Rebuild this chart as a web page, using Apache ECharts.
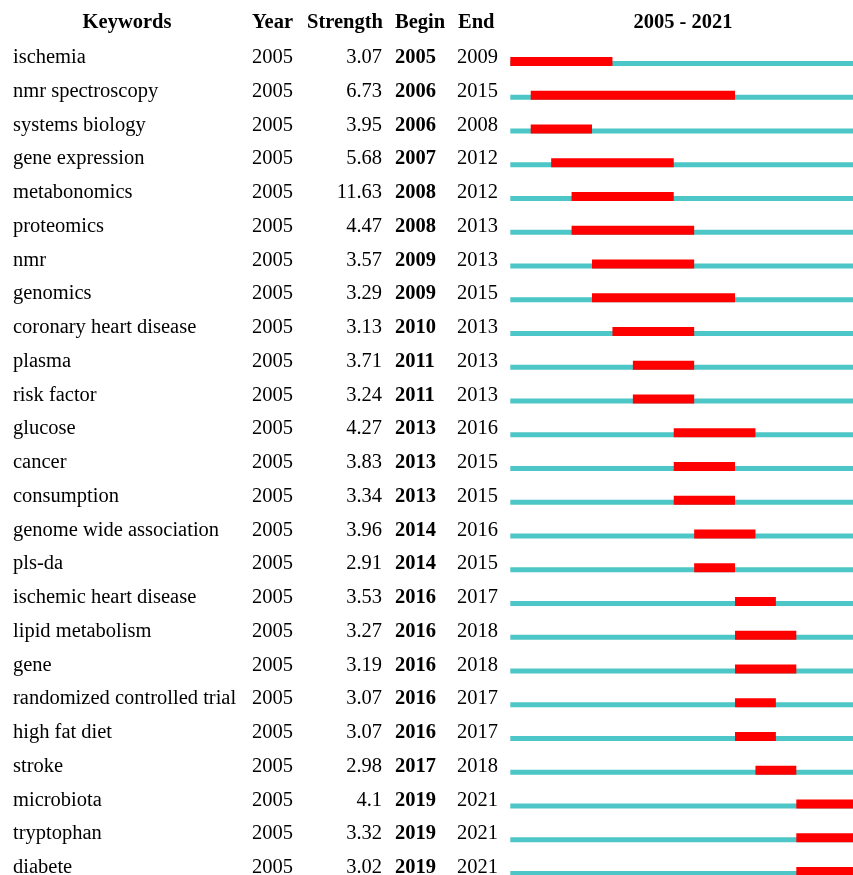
<!DOCTYPE html>
<html>
<head>
<meta charset="utf-8">
<script src="https://cdn.jsdelivr.net/npm/echarts@6/dist/echarts.min.js"></script>
<style>html,body{margin:0;padding:0;background:#fff;}#c{width:853px;height:875px;}</style>
</head>
<body>
<div id="c"></div>
<script>
const keywords = ['ischemia','nmr spectroscopy','systems biology','gene expression','metabonomics','proteomics','nmr','genomics','coronary heart disease','plasma','risk factor','glucose','cancer','consumption','genome wide association','pls-da','ischemic heart disease','lipid metabolism','gene','randomized controlled trial','high fat diet','stroke','microbiota','tryptophan','diabete'];
const years = [2005,2005,2005,2005,2005,2005,2005,2005,2005,2005,2005,2005,2005,2005,2005,2005,2005,2005,2005,2005,2005,2005,2005,2005,2005];
const strength = ['3.07','6.73','3.95','5.68','11.63','4.47','3.57','3.29','3.13','3.71','3.24','4.27','3.83','3.34','3.96','2.91','3.53','3.27','3.19','3.07','3.07','2.98','4.1','3.32','3.02'];
const begins = [2005,2006,2006,2007,2008,2008,2009,2009,2010,2011,2011,2013,2013,2013,2014,2014,2016,2016,2016,2016,2016,2017,2019,2019,2019];
const ends = [2009,2015,2008,2012,2012,2013,2013,2015,2013,2013,2013,2016,2015,2015,2016,2015,2017,2018,2018,2017,2017,2018,2021,2021,2021];
const firstYear = 2005, lastYear = 2021;
const headers = ['Keywords','Year','Strength','Begin','End', firstYear + ' - ' + lastYear];

const FONT = '"Liberation Serif", "Times New Roman", serif';
const FS = 20.5;
const REG = FS + 'px ' + FONT;
const BOLD = 'bold ' + FS + 'px ' + FONT;
const chart = echarts.init(document.getElementById('c'), null, {renderer:'canvas'});
const rowData = keywords.map((k,i)=>[i, begins[i], ends[i]]);

const hdr = (x, align, text) => ({
  type:'text', x:x, y:23,
  style:{text:text, font:BOLD, fill:'#000', textAlign:align, textVerticalAlign:'middle'}
});
const txt = (x, y, align, text, font) => ({
  type:'text', x:x, y:y,
  style:{text:String(text), font:font, fill:'#000', textAlign:align, textVerticalAlign:'middle'}
});

chart.setOption({
  animation:false,
  grid:{left:510.3, right:-4.6, top:38.4, bottom:-7.1, outerBoundsMode:'none', containLabel:false},
  xAxis:{type:'value', min:firstYear, max:lastYear+1, show:false},
  yAxis:{type:'category', data:keywords, inverse:true, show:false},
  graphic:[
    hdr(127,'center',headers[0]),
    hdr(252,'left',headers[1]),
    hdr(383,'right',headers[2]),
    hdr(395,'left',headers[3]),
    hdr(458,'left',headers[4]),
    hdr(683,'center',headers[5])
  ],
  series:[{
    type:'custom',
    data:rowData,
    clip:false,
    renderItem:(params, api)=>{
      const idx = api.value(0);
      const p0 = api.coord([firstYear, idx]);
      const p1 = api.coord([lastYear+1, idx]);
      const b0 = api.coord([api.value(1), idx]);
      const b1 = api.coord([api.value(2)+1, idx]);
      const bottom = p0[1] + 10.75;
      const ty = p0[1] + 2.5;
      return {type:'group', children:[
        txt(13, ty, 'left', keywords[idx], REG),
        txt(252, ty, 'left', years[idx], REG),
        txt(382, ty, 'right', strength[idx], REG),
        txt(395, ty, 'left', begins[idx], BOLD),
        txt(457, ty, 'left', ends[idx], REG),
        {type:'rect', shape:{x:p0[0], y:bottom-5, width:p1[0]-p0[0], height:5}, style:{fill:'#4cc6c6'}},
        {type:'rect', shape:{x:b0[0], y:bottom-9, width:b1[0]-b0[0], height:9}, style:{fill:'#ff0000'}}
      ]};
    }
  }]
});
</script>
</body>
</html>
